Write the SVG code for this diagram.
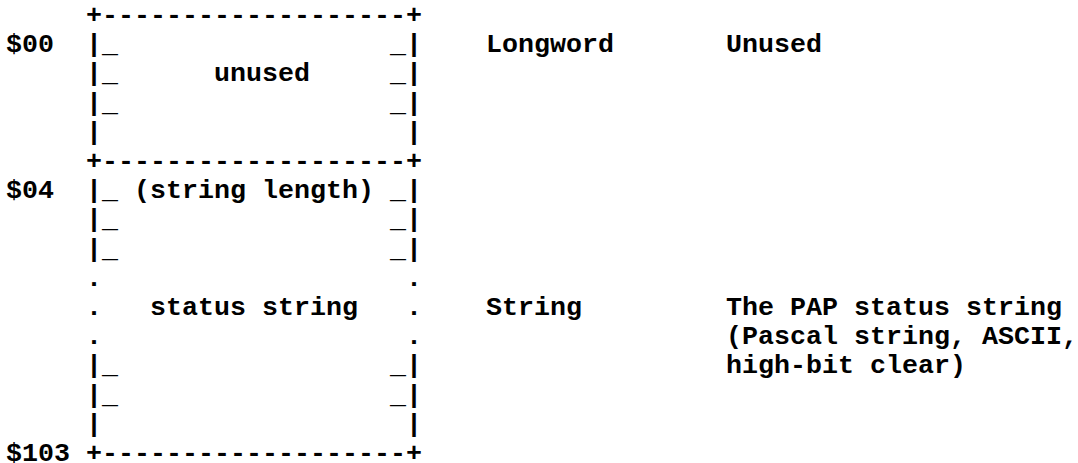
<svg xmlns="http://www.w3.org/2000/svg" width="1078" height="463" viewBox="0 0 1078 463">
  <style>
    text { font-family: "Liberation Mono", "Courier New", monospace; font-size: 26.67px; font-weight: bold; fill: #000; white-space: pre; }
  </style>
  <rect width="1078" height="463" fill="#fff"/>
  <!-- Offsets down the left margin -->
  <g id="offsets">
    <text x="6" y="52.2">$00</text>
    <text x="6" y="198.2">$04</text>
    <text x="6" y="461">$103</text>
  </g>
  <!-- Longword at $00: unused -->
  <g id="field-unused">
    <text x="86" y="23" xml:space="preserve">+-------------------+</text>
    <text x="86" y="52.2" xml:space="preserve">|_                 _|</text>
    <text x="86" y="81.4" xml:space="preserve">|_      unused     _|</text>
    <text x="86" y="110.6" xml:space="preserve">|_                 _|</text>
    <text x="86" y="139.8" xml:space="preserve">|                   |</text>
    <text x="486" y="52.2">Longword</text>
    <text x="726" y="52.2">Unused</text>
  </g>
  <!-- String at $04: PAP status string -->
  <g id="field-status">
    <text x="86" y="169" xml:space="preserve">+-------------------+</text>
    <text x="86" y="198.2" xml:space="preserve">|_ (string length) _|</text>
    <text x="86" y="227.4" xml:space="preserve">|_                 _|</text>
    <text x="86" y="256.6" xml:space="preserve">|_                 _|</text>
    <text x="86" y="285.8" xml:space="preserve">.                   .</text>
    <text x="86" y="315" xml:space="preserve">.   status string   .</text>
    <text x="86" y="344.2" xml:space="preserve">.                   .</text>
    <text x="86" y="373.4" xml:space="preserve">|_                 _|</text>
    <text x="86" y="402.6" xml:space="preserve">|_                 _|</text>
    <text x="86" y="431.8" xml:space="preserve">|                   |</text>
    <text x="86" y="461" xml:space="preserve">+-------------------+</text>
    <text x="486" y="315">String</text>
    <text x="726" y="315">The PAP status string</text>
    <text x="726" y="344.2">(Pascal string, ASCII,</text>
    <text x="726" y="373.4">high-bit clear)</text>
  </g>
</svg>
